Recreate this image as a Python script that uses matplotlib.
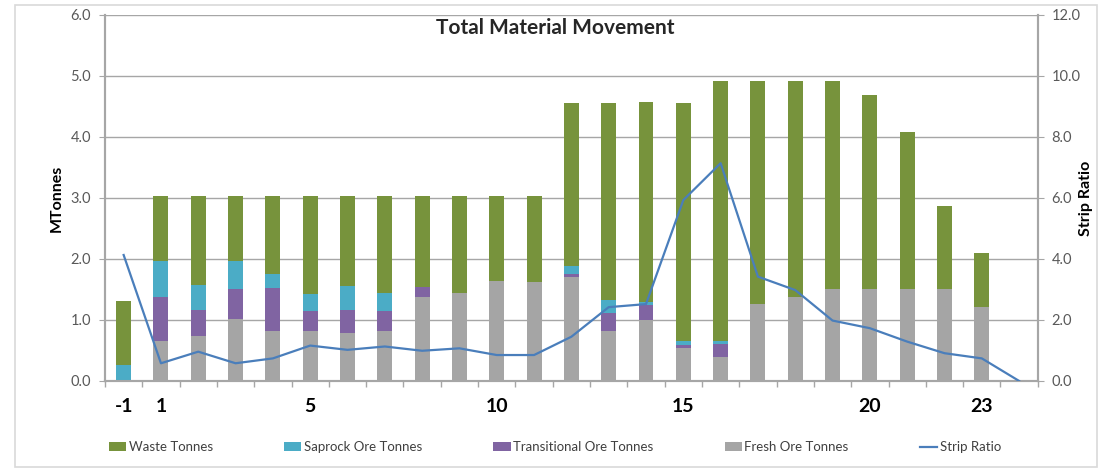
import matplotlib
matplotlib.use('Agg')
import matplotlib.pyplot as plt
from matplotlib.patches import Rectangle

plt.rcParams['font.family'] = ['Lato', 'DejaVu Sans']

periods = [-1, 1, 2, 3, 4, 5, 6, 7, 8, 9, 10, 11, 12, 13, 14, 15, 16, 17, 18, 19, 20, 21, 22, 23, 24]
shown_labels = [-1, 1, 5, 10, 15, 20, 23]

fresh = [0.00, 0.66, 0.73, 1.02, 0.82, 0.82, 0.78, 0.82, 1.38, 1.44, 1.64, 1.63, 1.70,
         0.82, 1.00, 0.54, 0.39, 1.26, 1.37, 1.51, 1.51, 1.51, 1.51, 1.21, 0.00]
transitional = [0.00, 0.72, 0.43, 0.49, 0.71, 0.33, 0.38, 0.33, 0.16, 0.00, 0.00, 0.00, 0.05,
                0.29, 0.25, 0.05, 0.22, 0.00, 0.00, 0.00, 0.00, 0.00, 0.00, 0.00, 0.00]
saprock = [0.26, 0.58, 0.41, 0.46, 0.22, 0.27, 0.39, 0.30, 0.00, 0.00, 0.00, 0.00, 0.14,
           0.22, 0.05, 0.07, 0.05, 0.00, 0.00, 0.00, 0.00, 0.00, 0.00, 0.00, 0.00]
waste = [1.05, 1.08, 1.47, 1.07, 1.29, 1.62, 1.49, 1.59, 1.50, 1.60, 1.40, 1.41, 2.66,
         3.22, 3.28, 3.89, 4.26, 3.66, 3.55, 3.41, 3.18, 2.57, 1.36, 0.88, 0.00]
strip_ratio = [4.13, 0.58, 0.96, 0.58, 0.74, 1.16, 1.02, 1.13, 0.99, 1.07, 0.85, 0.85, 1.45,
               2.42, 2.52, 5.93, 7.14, 3.42, 2.98, 1.98, 1.73, 1.29, 0.91, 0.74, 0.00]

c_waste = '#77933C'
c_sap = '#4BACC6'
c_trans = '#8064A2'
c_fresh = '#A5A5A5'
c_line = '#4A7EBB'
c_axis = '#A6A6A6'

fig = plt.figure(figsize=(11.04, 4.68), dpi=100)
fig.patches.append(Rectangle((0.0136, 0.003), 0.98, 0.986, transform=fig.transFigure,
                             fill=False, edgecolor='#D9D9D9', lw=1.2))
ax = fig.add_axes([0.0951, 0.186, 0.8449, 0.782])

x = list(range(len(periods)))
w = 0.4
b1 = fresh
b2 = [a + b for a, b in zip(b1, transitional)]
b3 = [a + b for a, b in zip(b2, saprock)]
h_fresh = ax.bar(x, fresh, w, color=c_fresh, label='Fresh Ore Tonnes', zorder=3)
h_trans = ax.bar(x, transitional, w, bottom=b1, color=c_trans, label='Transitional Ore Tonnes', zorder=3)
h_sap = ax.bar(x, saprock, w, bottom=b2, color=c_sap, label='Saprock Ore Tonnes', zorder=3)
h_waste = ax.bar(x, waste, w, bottom=b3, color=c_waste, label='Waste Tonnes', zorder=3)

ax.set_xlim(-0.5, len(periods) - 0.5)
ax.set_ylim(0, 6)
ax.set_yticks([0, 1, 2, 3, 4, 5, 6])
ax.set_yticklabels(['%.1f' % v for v in [0, 1, 2, 3, 4, 5, 6]])
ax.yaxis.grid(True, color=c_axis, lw=1, zorder=0)
ax.set_axisbelow(True)

ax.set_xticks([periods.index(p) for p in shown_labels])
ax.set_xticklabels([str(p) for p in shown_labels], fontsize=14, fontweight='bold')
ax.set_xticks([i - 0.5 for i in range(len(periods) + 1)], minor=True)
ax.tick_params(axis='x', which='major', length=0, pad=12)
ax.tick_params(axis='x', which='minor', length=4, color=c_axis, width=1)
ax.tick_params(axis='y', length=4, color=c_axis, labelsize=10.5, labelcolor='#595959', pad=6)

ax.spines['top'].set_visible(False)
for s in ['left', 'right', 'bottom']:
    ax.spines[s].set_color(c_axis)
    ax.spines[s].set_linewidth(1.5)
ax.set_ylabel('MTonnes', fontsize=11.5, fontweight='bold', labelpad=5)

ax2 = ax.twinx()
h_line, = ax2.plot(x, strip_ratio, color=c_line, lw=1.6, label='Strip Ratio', zorder=4)
ax2.set_ylim(0, 12)
ax2.set_yticks([0, 2, 4, 6, 8, 10, 12])
ax2.set_yticklabels(['%.1f' % v for v in [0, 2, 4, 6, 8, 10, 12]])
ax2.tick_params(axis='y', length=4, color=c_axis, labelsize=10.5, labelcolor='#595959', pad=6)
for s in ['left', 'right', 'bottom']:
    ax2.spines[s].set_color(c_axis)
    ax2.spines[s].set_linewidth(1.5)
ax2.spines['top'].set_visible(False)
ax2.set_ylabel('Strip Ratio', fontsize=11.5, fontweight='bold', labelpad=-1)

fig.text(555 / 1104, 1 - 28 / 468, 'Total Material Movement', ha='center', va='center',
         fontsize=15, fontweight='bold', color='#262626')

fig.legend([h_waste, h_sap, h_trans, h_fresh, h_line],
           ['Waste Tonnes', 'Saprock Ore Tonnes', 'Transitional Ore Tonnes', 'Fresh Ore Tonnes', 'Strip Ratio'],
           loc='center', bbox_to_anchor=(555 / 1104, 1 - 447 / 468), ncol=5, frameon=False,
           fontsize=9.5, handlelength=1.3, handleheight=0.6, handletextpad=0.2, columnspacing=5.4,
           labelcolor='#404040')

fig.savefig('out.png', dpi=100)
